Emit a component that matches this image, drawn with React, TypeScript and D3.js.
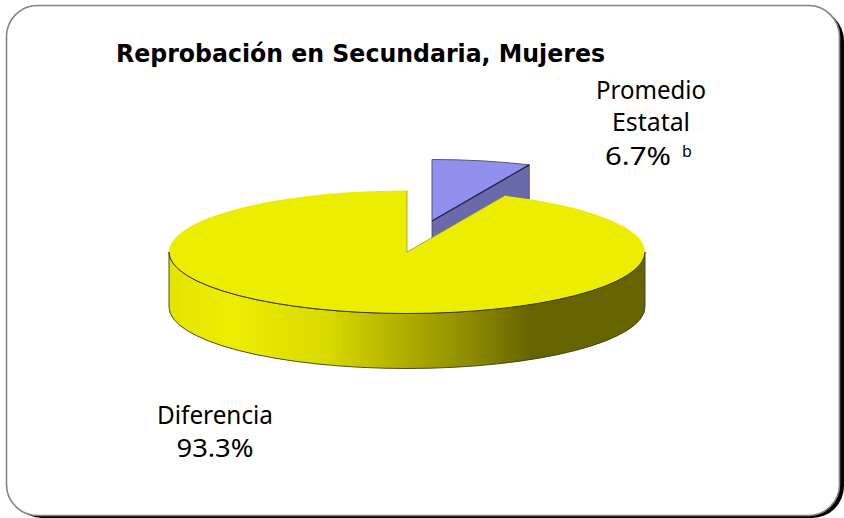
import React from "react";
import * as d3 from "d3";

const sliceNames = ["Promedio Estatal", "Diferencia"];
const sliceValues = [6.7, 93.3];
const topColors = ["#9090ee", "#eded00"];
const edgeStroke = "#3a3a20";
const gradientStops: [number, string][] = [
  [0, "#e2e200"], [0.03, "#e6e600"], [0.134, "#eded00"], [0.338, "#d8d800"], [0.49, "#b0ae00"],
  [0.63, "#8f8c00"], [0.76, "#666400"], [1, "#666400"],
];

const W = 844, H = 518;
const cx = 407, cy = 252, rx = 238, ry = 61.5, depth = 55;
const explode = { dx: 25, dy: -31 };

export default function App() {
  const arcs = d3.pie<number>().sort(null).startAngle(0).endAngle(2 * Math.PI)(sliceValues);
  const px = (a: number, ox = 0) => cx + ox + rx * Math.sin(a);
  const py = (a: number, oy = 0) => cy + oy - ry * Math.cos(a);
  const top = (a0: number, a1: number, ox = 0, oy = 0) =>
    `M${cx + ox},${cy + oy}L${px(a0, ox)},${py(a0, oy)}A${rx},${ry} 0 ${a1 - a0 > Math.PI ? 1 : 0} 1 ${px(a1, ox)},${py(a1, oy)}Z`;
  const [blue, yellow] = arcs;
  const bTop = top(blue.startAngle, blue.endAngle, explode.dx, explode.dy);
  const yTop = top(yellow.startAngle, yellow.endAngle);
  // Outer wall of the large slice: the front half of the ellipse, extruded downward
  const wall = `M${cx - rx},${cy}A${rx},${ry} 0 0 0 ${cx + rx},${cy}L${cx + rx},${cy + depth}A${rx},${ry} 0 0 1 ${cx - rx},${cy + depth}Z`;
  // Cut face of the exploded slice, extruded downward
  const bx0 = cx + explode.dx, by0 = cy + explode.dy;
  const bx1 = px(blue.endAngle, explode.dx), by1 = py(blue.endAngle, explode.dy);
  const bFace = `M${bx0},${by0}L${bx1},${by1}L${bx1},${by1 + depth}L${bx0},${by0 + depth}Z`;
  const titleFont = "'DejaVu Sans', Verdana, sans-serif";
  const labelFont = "'Noto Sans', Tahoma, sans-serif";
  return (
    <svg width={W} height={H} style={{ position: "absolute", left: 0, top: 0, background: "#fff" }}>
      <defs>
        <linearGradient id="wall" gradientUnits="userSpaceOnUse" x1={cx - rx} x2={cx + rx} y1={0} y2={0}>
          {gradientStops.map(([o, c]) => <stop key={o} offset={o} stopColor={c} />)}
        </linearGradient>
      </defs>
      <rect x={10} y={9} width={834} height={509} rx={32} fill="#000" />
      <rect x={6.5} y={5.5} width={833} height={510} rx={31} fill="#fff" stroke="#858585" strokeWidth={1.6} />

      <path d={bFace} fill="#6a6aaa" stroke="#444466" strokeWidth={0.8} />
      <path d={bTop} fill={topColors[0]} stroke="#55557a" strokeWidth={1} />
      <line x1={bx0} y1={by0} x2={bx1} y2={by1} stroke="#20204a" strokeWidth={1.2} />

      <path d={wall} fill="url(#wall)" stroke={edgeStroke} strokeWidth={0.9} />
      <path d={yTop} fill={topColors[1]} stroke="none" />
      <path d={`M${cx - rx},${cy}A${rx},${ry} 0 0 0 ${cx + rx},${cy}`} fill="none" stroke={edgeStroke} strokeWidth={1} />
      <path d={`M${px(yellow.startAngle)},${py(yellow.startAngle)}L${cx},${cy}L${cx},${py(0)}`} fill="none" stroke="#77773a" strokeWidth={0.6} />

      <text x={116} y={62} fontFamily={titleFont} fontWeight={700} fontSize={24} fill="#000" textLength={489} lengthAdjust="spacingAndGlyphs">
        Reprobación en Secundaria, Mujeres
      </text>
      <g fontFamily={labelFont} fontSize={25} fill="#000" textAnchor="middle">
        <text x={651} y={99} textLength={110} lengthAdjust="spacingAndGlyphs">Promedio</text>
        <text x={651} y={131} textLength={78} lengthAdjust="spacingAndGlyphs">Estatal</text>
        <text x={638} y={165} textLength={66} lengthAdjust="spacingAndGlyphs">{sliceValues[0]}%</text>
        <text x={687} y={157} fontSize={16}>b</text>
        <text x={215} y={424} textLength={116} lengthAdjust="spacingAndGlyphs">{sliceNames[1]}</text>
        <text x={215} y={457} textLength={77} lengthAdjust="spacingAndGlyphs">{sliceValues[1]}%</text>
      </g>
    </svg>
  );
}
